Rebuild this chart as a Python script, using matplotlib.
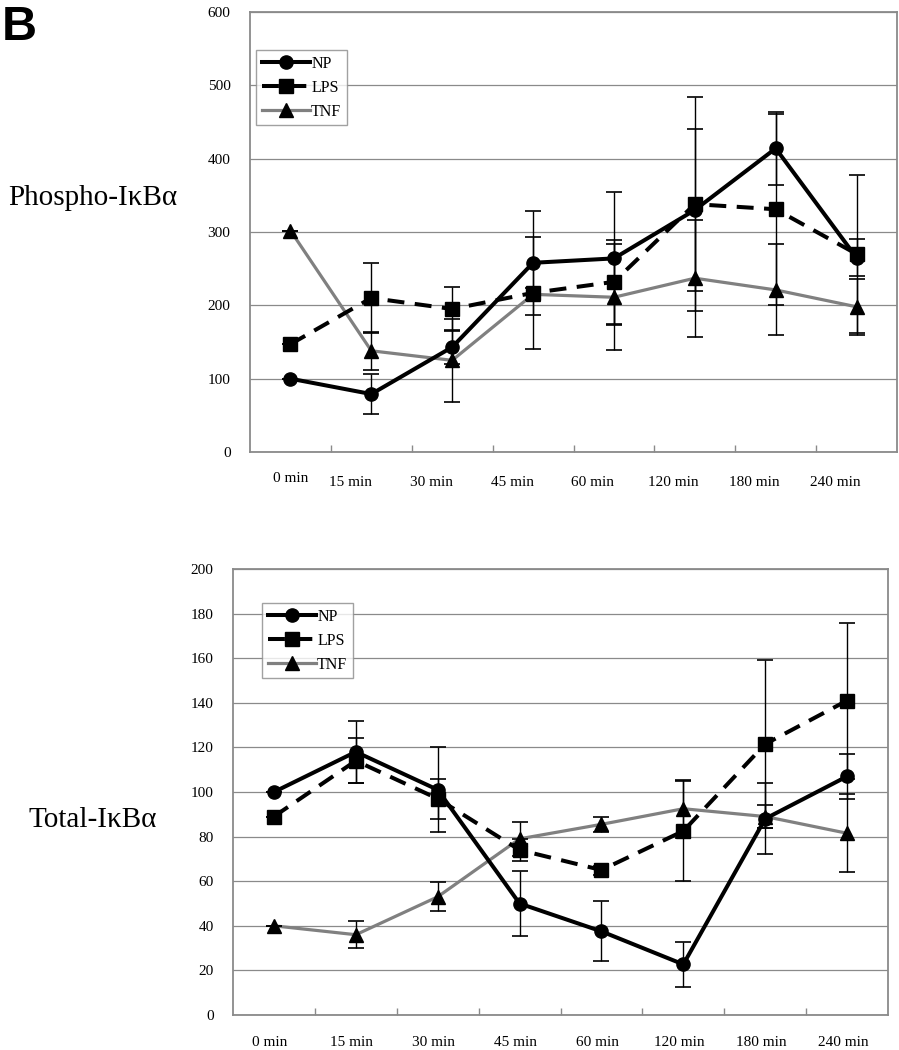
import matplotlib.pyplot as plt
import numpy as np

plt.rcParams['font.family'] = ['Liberation Serif', 'DejaVu Serif']

times = ['0 min', '15 min', '30 min', '45 min', '60 min', '120 min', '180 min', '240 min']

# Phospho-IkBa
phos_np = [100, 79, 143, 258, 264, 330, 414, 265]
phos_np_err = [0, 27, 23, 71, 91, 111, 50, 25]
phos_lps = [147, 210, 195, 217, 232, 338, 331, 270]
phos_lps_err = [0, 48, 30, 76, 57, 146, 130, 108]
phos_tnf = [302, 138, 125, 215, 211, 237, 221, 198]
phos_tnf_err = [0, 26, 57, 8, 72, 80, 62, 38]

# Total-IkBa
tot_np = [100, 118, 101, 50, 37.5, 22.7, 88, 107]
tot_np_err = [0, 14, 19, 14.5, 13.5, 10, 16, 10]
tot_lps = [89, 114, 97, 74, 65, 82.5, 121.5, 141]
tot_lps_err = [0, 10, 9, 5, 2, 22.5, 37.5, 35]
tot_tnf = [40, 36, 53, 79, 85.5, 92.5, 89, 81.5]
tot_tnf_err = [0, 6, 6.5, 7.5, 3.5, 13, 5, 17.5]

GRID = '#8a8a8a'
x = np.arange(len(times))

fig = plt.figure(figsize=(8.99, 10.5), dpi=100)
ax1 = fig.add_axes([250/899, 1-452/1050, 647/899, 440/1050])
ax2 = fig.add_axes([233/899, 1-1015/1050, 655/899, 446/1050])


def draw(ax, np_v, np_e, lps_v, lps_e, tnf_v, tnf_e, ymax, ystep):
    ax.plot(x, tnf_v, color='#808080', lw=2.3, marker='^', ms=10,
            mfc='black', mec='black', label='TNF', zorder=3)
    ax.plot(x, lps_v, color='black', lw=2.9, ls=(0, (4.2, 2.6)), marker='s', ms=10,
            label='LPS', zorder=4)
    ax.plot(x, np_v, color='black', lw=2.9, marker='o', ms=9.5, label='NP', zorder=5)
    for v, e in [(np_v, np_e), (lps_v, lps_e), (tnf_v, tnf_e)]:
        ax.errorbar(x, v, yerr=e, fmt='none', ecolor='black', elinewidth=1.0,
                    capsize=6, capthick=1.2, zorder=6)

    ax.set_xlim(-0.5, len(times) - 0.5)
    ax.set_ylim(0, ymax)
    ax.set_yticks(np.arange(0, ymax + 1, ystep))
    ax.yaxis.grid(True, color=GRID, lw=0.9)
    ax.set_axisbelow(True)
    ax.tick_params(axis='y', length=0, pad=14, labelsize=11)
    ax.set_xticks(x)
    ax.set_xticklabels([])
    ax.tick_params(axis='x', which='major', length=0)
    ax.set_xticks(np.arange(0.5, len(times) - 1, 1), minor=True)
    ax.tick_params(axis='x', which='minor', direction='in', length=5, color=GRID, width=1)
    for s in ax.spines.values():
        s.set_color(GRID)
        s.set_linewidth(1.3)

    h, l = ax.get_legend_handles_labels()
    order = [2, 1, 0]
    return [h[i] for i in order], [l[i] for i in order]


h, l = draw(ax1, phos_np, phos_np_err, phos_lps, phos_lps_err, phos_tnf, phos_tnf_err, 600, 100)
ax1.legend(h, l, loc='upper left', bbox_to_anchor=(6/647, 1-38/440), frameon=True,
           fancybox=False, edgecolor=GRID, fontsize=11.5, handlelength=3.0,
           handletextpad=0.1, labelspacing=0.5, borderpad=0.35, borderaxespad=0)
# top panel labels sit staggered, mostly left of the points
for i, t in enumerate(times):
    dx = 0 if i == 0 else -0.26
    dy = -26 if i == 0 else -31
    ax1.annotate(t, (i + dx, 0), xycoords=('data', 'axes fraction'),
                 xytext=(0, dy), textcoords='offset pixels',
                 ha='center', va='center', fontsize=11)

h, l = draw(ax2, tot_np, tot_np_err, tot_lps, tot_lps_err, tot_tnf, tot_tnf_err, 200, 20)
ax2.legend(h, l, loc='upper left', bbox_to_anchor=(29/655, 1-34/446), frameon=True,
           fancybox=False, edgecolor=GRID, fontsize=11.5, handlelength=3.0,
           handletextpad=0.1, labelspacing=0.5, borderpad=0.35, borderaxespad=0)
for i, t in enumerate(times):
    ax2.annotate(t, (i - 0.05, 0), xycoords=('data', 'axes fraction'),
                 xytext=(0, -27), textcoords='offset pixels',
                 ha='center', va='center', fontsize=11)

fig.text(93/899, 1-198/1050, 'Phospho-I\u03baB\u03b1', ha='center', va='center', fontsize=21)
fig.text(93/899, 1-820/1050, 'Total-I\u03baB\u03b1', ha='center', va='center', fontsize=21)
fig.text(2/899, 1-27/1050, 'B', ha='left', va='center', fontsize=35,
         fontweight='bold', family=['Liberation Sans', 'DejaVu Sans'])

fig.savefig('out.png', dpi=100)
